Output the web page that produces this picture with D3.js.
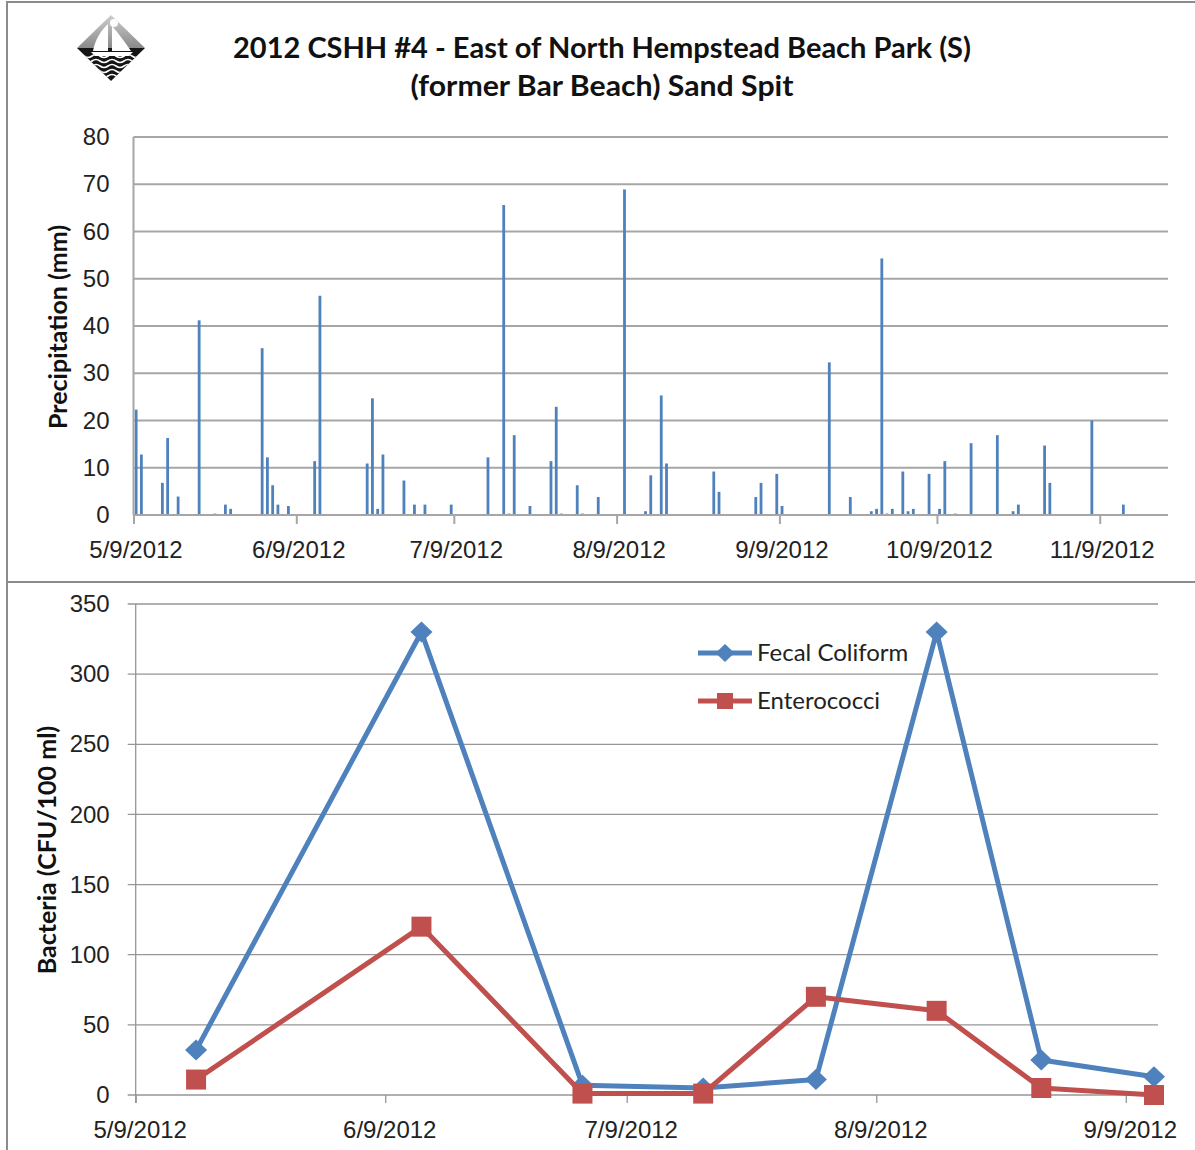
<!DOCTYPE html>
<html>
<head>
<meta charset="utf-8">
<script src="https://cdn.jsdelivr.net/npm/d3@7"></script>
<style>
  body { margin: 0; background: #fff; }
  svg { display: block; font-family: Lato, "Open Sans", sans-serif; }
  .tick text { fill: #222; }
</style>
</head>
<body>
<svg id="chart" width="1195" height="1150"></svg>
<script>
// Precipitation data (daily, mm)
const precipDates = ["5/9/2012","5/10/2012","5/14/2012","5/15/2012","5/17/2012","5/21/2012","5/24/2012","5/26/2012","5/27/2012",
  "6/2/2012","6/3/2012","6/4/2012","6/5/2012","6/7/2012","6/10/2012","6/12/2012","6/13/2012","6/22/2012","6/23/2012","6/24/2012","6/25/2012","6/29/2012",
  "7/1/2012","7/3/2012","7/8/2012","7/15/2012","7/18/2012","7/19/2012","7/20/2012","7/23/2012","7/27/2012","7/28/2012","7/29/2012",
  "8/1/2012","8/2/2012","8/5/2012","8/10/2012","8/14/2012","8/15/2012","8/17/2012","8/18/2012","8/27/2012","8/28/2012",
  "9/4/2012","9/5/2012","9/8/2012","9/9/2012","9/18/2012","9/22/2012","9/26/2012","9/27/2012","9/28/2012","9/29/2012","9/30/2012",
  "10/2/2012","10/3/2012","10/4/2012","10/7/2012","10/9/2012","10/10/2012","10/12/2012","10/15/2012","10/20/2012","10/23/2012","10/24/2012","10/29/2012","10/30/2012",
  "11/7/2012","11/13/2012"];
const precipValues = [22.3,12.8,6.8,16.3,3.9,41.2,0.3,2.2,1.3,
  35.3,12.2,6.3,2.2,1.9,0.2,11.4,46.4,10.9,24.7,1.3,12.8,7.3,
  2.2,2.2,2.2,12.2,65.6,0.3,16.9,1.9,11.4,22.9,0.3,
  6.3,0.3,3.8,68.9,0.8,8.4,25.3,10.9,9.2,4.9,
  3.8,6.8,8.7,1.9,32.3,3.8,0.8,1.3,54.3,0.3,1.3,
  9.2,0.8,1.3,8.7,1.3,11.4,0.3,15.2,16.9,0.8,2.2,14.7,6.8,
  20.0,2.2];
const precipAxisRange = ["5/9/2012", "11/22/2012"];
const precipTickDates = ["5/9/2012","6/9/2012","7/9/2012","8/9/2012","9/9/2012","10/9/2012","11/9/2012"];
const precipYTicks = [0,10,20,30,40,50,60,70,80];

// Bacteria samples (CFU/100 ml)
const sampleDates = ["5/16/2012","6/13/2012","7/3/2012","7/18/2012","8/1/2012","8/16/2012","8/29/2012","9/12/2012"];
const fecalColiform = [32, 330, 7, 5, 11, 330, 25, 13];
const enterococci = [11, 120, 1, 1, 70, 60, 5, 0];
const seriesNames = ["Fecal Coliform", "Enterococci"];
const bactAxisRange = ["5/9/2012", "9/13/2012"];
const bactTickDates = ["5/9/2012","6/9/2012","7/9/2012","8/9/2012","9/9/2012"];
const bactYTicks = [0,50,100,150,200,250,300,350];

const titleLines = ["2012 CSHH #4 - East of North Hempstead Beach Park (S)", "(former Bar Beach) Sand Spit"];

const parse = d3.timeParse("%m/%d/%Y");
const fmt = d => `${d.getMonth() + 1}/${d.getDate()}/${d.getFullYear()}`;
const blue = "#4F81BD", red = "#C0504D", grid = "#A6A6A6";

const svg = d3.select("#chart");

// Frames
svg.append("rect").attr("x", 7).attr("y", 2).attr("width", 1200).attr("height", 580)
  .attr("fill", "none").attr("stroke", "#8c8c8c").attr("stroke-width", 2);
svg.append("rect").attr("x", 7).attr("y", 582).attr("width", 1200).attr("height", 580)
  .attr("fill", "none").attr("stroke", "#8c8c8c").attr("stroke-width", 2);

// Logo
const logo = svg.append("g").attr("transform", "translate(111,48)");
const defs = svg.append("defs");
const lg = defs.append("linearGradient").attr("id", "sky").attr("x1", 0).attr("y1", 0).attr("x2", 0).attr("y2", 1);
lg.append("stop").attr("offset", 0).attr("stop-color", "#d0d0d0");
lg.append("stop").attr("offset", 1).attr("stop-color", "#8a8a8a");
defs.append("clipPath").attr("id", "dia").append("path").attr("d", "M0,-33L34,0L0,33L-34,0Z");
const lc = logo.append("g").attr("clip-path", "url(#dia)");
lc.append("rect").attr("x", -35).attr("y", -34).attr("width", 70).attr("height", 34).attr("fill", "url(#sky)");
lc.append("rect").attr("x", -35).attr("y", 0).attr("width", 70).attr("height", 34).attr("fill", "#151515");
lc.append("circle").attr("cx", 3).attr("cy", -25).attr("r", 4).attr("fill", "#fff");
for (let i = 0; i < 5; i++) {
  const yy = 8 + i * 5;
  lc.append("path").attr("d", `M-35,${yy} q4,-3 8,0 t8,0 t8,0 t8,0 t8,0 t8,0 t8,0 t8,0 t8,0`)
    .attr("fill", "none").attr("stroke", "#fff").attr("stroke-width", 1.6);
}
lc.append("path").attr("d", "M-3,-24 L-3,3 L-18,3 C-16,-8 -10,-18 -3,-24Z").attr("fill", "#fff");
lc.append("path").attr("d", "M1,-22 L1,3 L20,3 C14,-6 8,-14 1,-22Z").attr("fill", "#fff");
lc.append("path").attr("d", "M-20,4 L22,4 L18,8 L-16,8Z").attr("fill", "#fff");

// Title
svg.append("text").attr("x", 602).attr("y", 58).attr("text-anchor", "middle")
  .attr("font-size", 29).attr("font-weight", "bold").attr("fill", "#111")
  .attr("textLength", 738).attr("lengthAdjust", "spacingAndGlyphs").text(titleLines[0]);
svg.append("text").attr("x", 602).attr("y", 96).attr("text-anchor", "middle")
  .attr("font-size", 29).attr("font-weight", "bold").attr("fill", "#111")
  .attr("textLength", 383).attr("lengthAdjust", "spacingAndGlyphs").text(titleLines[1]);

// ---------- Precipitation chart ----------
const x1 = d3.scaleTime().domain(precipAxisRange.map(parse)).range([133.5, 1168]);
const y1 = d3.scaleLinear().domain([0, 80]).range([515, 137]);
const day1 = x1(parse("5/10/2012")) - x1(parse("5/9/2012"));

const g1 = svg.append("g");
g1.selectAll(".grid1").data(precipYTicks.filter(v => v > 0)).join("line")
  .attr("x1", 133.5).attr("x2", 1168).attr("y1", d => y1(d)).attr("y2", d => y1(d))
  .attr("stroke", grid).attr("stroke-width", 2);

g1.selectAll(".bar").data(precipDates.map((d, i) => ({ date: parse(d), v: precipValues[i] }))).join("rect")
  .attr("x", d => x1(d.date) + day1 / 2 - 1.4).attr("width", 2.8)
  .attr("y", d => y1(d.v)).attr("height", d => y1(0) - y1(d.v))
  .attr("fill", blue);

g1.append("line").attr("x1", 133.5).attr("x2", 133.5).attr("y1", 137).attr("y2", 515)
  .attr("stroke", grid).attr("stroke-width", 2);

const xa1 = g1.append("g").attr("transform", "translate(0,515)")
  .call(d3.axisBottom(x1).tickValues(precipTickDates.map(parse)).tickFormat(fmt).tickSize(9).tickPadding(17));
xa1.select(".domain").attr("d", "M133.5,0H1168").attr("stroke", grid).attr("stroke-width", 2);
xa1.selectAll(".tick line").attr("stroke", grid).attr("stroke-width", 2);
xa1.selectAll(".tick text").attr("font-size", 24).attr("dx", 2);

const ya1 = g1.append("g").attr("transform", "translate(133.5,0)")
  .call(d3.axisLeft(y1).tickValues(precipYTicks).tickSize(0).tickPadding(24));
ya1.select(".domain").remove();
ya1.selectAll(".tick text").attr("font-size", 24);

svg.append("text").attr("transform", "translate(67,327) rotate(-90)").attr("text-anchor", "middle")
  .attr("font-size", 25).attr("font-weight", "bold").attr("fill", "#111").text("Precipitation (mm)");

// ---------- Bacteria chart ----------
const x2 = d3.scaleTime().domain(bactAxisRange.map(parse)).range([135.7, 1158]);
const y2 = d3.scaleLinear().domain([0, 350]).range([1095, 604]);
const day2 = x2(parse("5/10/2012")) - x2(parse("5/9/2012"));

const g2 = svg.append("g");
g2.selectAll(".grid2").data(bactYTicks).join("line")
  .attr("x1", 127.7).attr("x2", 1158).attr("y1", d => y2(d)).attr("y2", d => y2(d))
  .attr("stroke", "#969696").attr("stroke-width", 1.3);
g2.append("line").attr("x1", 135.7).attr("x2", 135.7).attr("y1", 604).attr("y2", 1103)
  .attr("stroke", "#969696").attr("stroke-width", 1.3);

const xa2 = g2.append("g").attr("transform", "translate(0,1095)")
  .call(d3.axisBottom(x2).tickValues(bactTickDates.map(parse)).tickFormat(fmt).tickSize(8).tickPadding(18));
xa2.select(".domain").remove();
xa2.selectAll(".tick line").attr("stroke", "#969696").attr("stroke-width", 1.3);
xa2.selectAll(".tick text").attr("font-size", 24).attr("dx", 4);

const ya2 = g2.append("g").attr("transform", "translate(135.7,0)")
  .call(d3.axisLeft(y2).tickValues(bactYTicks).tickSize(0).tickPadding(26));
ya2.select(".domain").remove();
ya2.selectAll(".tick text").attr("font-size", 24);

svg.append("text").attr("transform", "translate(56,850) rotate(-90)").attr("text-anchor", "middle")
  .attr("font-size", 25).attr("font-weight", "bold").attr("fill", "#111").text("Bacteria (CFU/100 ml)");

// marker shapes: Excel-style diamond (about as wide as tall) and square
const diamond = r => `M0,${-r}L${r * 1.05},0L0,${r}L${-r * 1.05},0Z`;
const square = r => `M${-r},${-r}H${r}V${r}H${-r}Z`;

const series = [
  { name: seriesNames[0], values: fecalColiform, color: blue, shape: diamond, r: 10.5, lr: 9 },
  { name: seriesNames[1], values: enterococci, color: red, shape: square, r: 10, lr: 8 }
];
const line = d3.line().x(d => x2(d.date) + day2 / 2).y(d => y2(d.v));

series.forEach((s, si) => {
  const pts = sampleDates.map((d, i) => ({ date: parse(d), v: s.values[i] }));
  g2.append("path").datum(pts).attr("d", line).attr("fill", "none")
    .attr("stroke", s.color).attr("stroke-width", 5).attr("stroke-linejoin", "round");
  g2.selectAll(".m" + si).data(pts).join("path")
    .attr("transform", d => `translate(${x2(d.date) + day2 / 2},${y2(d.v)})`)
    .attr("d", s.shape(s.r)).attr("fill", s.color);

  // legend
  const ly = 653 + si * 48;
  g2.append("line").attr("x1", 698).attr("x2", 752).attr("y1", ly).attr("y2", ly)
    .attr("stroke", s.color).attr("stroke-width", 5);
  g2.append("path").attr("transform", `translate(725,${ly})`)
    .attr("d", s.shape(s.lr)).attr("fill", s.color);
  g2.append("text").attr("x", 757).attr("y", ly + 8).attr("font-size", 24).attr("fill", "#222").text(s.name);
});
</script>
</body>
</html>
